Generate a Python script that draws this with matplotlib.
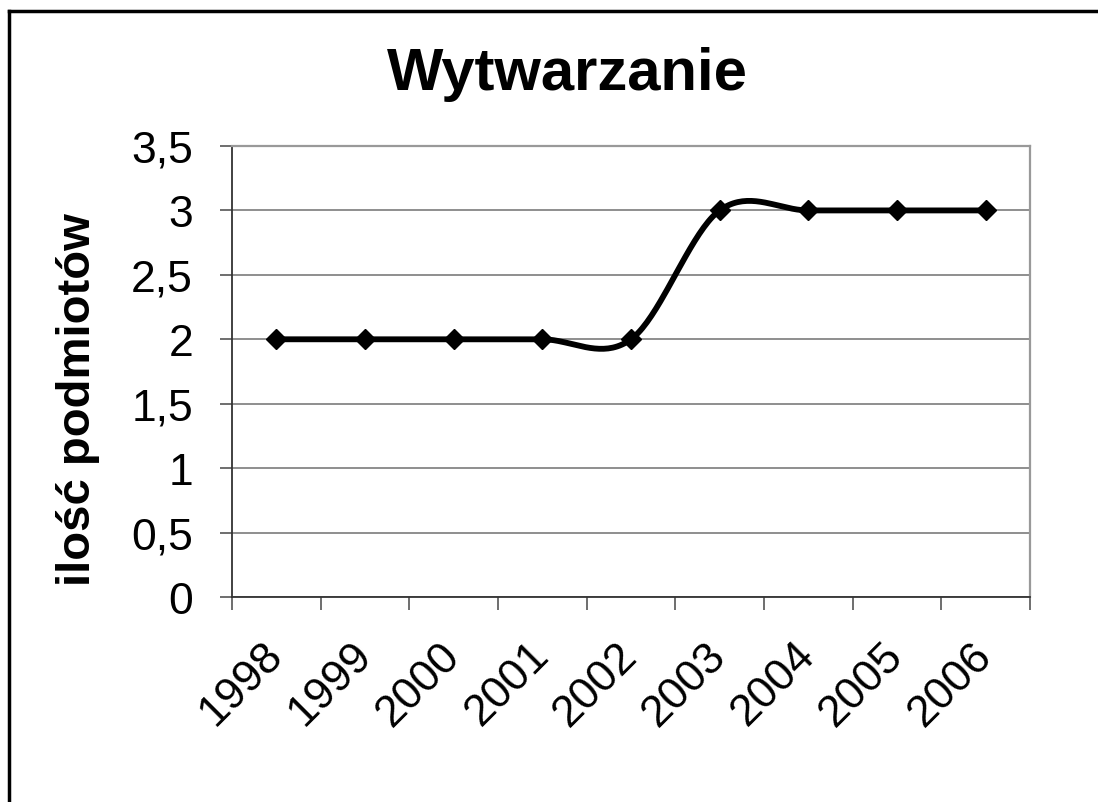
import matplotlib
matplotlib.use('Agg')
import matplotlib.pyplot as plt
import numpy as np
from matplotlib.lines import Line2D

plt.rcParams['font.family'] = ['Liberation Sans', 'DejaVu Sans']

years = ['1998', '1999', '2000', '2001', '2002', '2003', '2004', '2005', '2006']
values = [2, 2, 2, 2, 2, 3, 3, 3, 3]
yticks = [0, 0.5, 1, 1.5, 2, 2.5, 3, 3.5]
ytick_labels = ['0', '0,5', '1', '1,5', '2', '2,5', '3', '3,5']


def smooth(y, n=40):
    # catmull-rom like excel's smoothed line
    y = np.asarray(y, dtype=float)
    x = np.arange(len(y))
    m = np.zeros(len(y))
    m[1:-1] = (y[2:] - y[:-2]) / 2
    xs, ys = [], []
    for i in range(len(y) - 1):
        t = np.linspace(0, 1, n)
        h00 = 2*t**3 - 3*t**2 + 1
        h10 = t**3 - 2*t**2 + t
        h01 = -2*t**3 + 3*t**2
        h11 = t**3 - t**2
        xs.append(x[i] + t)
        ys.append(h00*y[i] + h10*m[i] + h01*y[i+1] + h11*m[i+1])
    return np.concatenate(xs), np.concatenate(ys)


fig = plt.figure(figsize=(10.98, 8.03), dpi=100)
ax = fig.add_axes([232/1098, 1-598/803, 798/1098, 451/803])

sx, sy = smooth(values)
ax.plot(sx, sy, color='black', lw=4.2, solid_capstyle='round', zorder=3)
ax.plot(range(len(values)), values, ls='none', marker='D', ms=10,
        color='black', zorder=4)

ax.set_xlim(-0.5, len(years) - 0.5)
ax.set_ylim(0, 3.5)
ax.set_yticks(yticks)
ax.set_yticklabels(ytick_labels, fontsize=32)
ax.yaxis.grid(True, color='#707070', lw=1.1)
ax.set_axisbelow(True)

ax.set_xticks(range(len(years)))
ax.set_xticklabels(years, fontsize=32, rotation=45, ha='right', va='center',
                   rotation_mode='anchor')
ax.set_xticks(np.arange(-0.5, len(years)), minor=True)
ax.tick_params(axis='x', which='major', length=0, pad=37)
ax.tick_params(axis='x', which='minor', length=9, width=1.2, color='#555555')
ax.tick_params(axis='y', length=9, width=1.2, color='#555555', pad=19)

for s in ['top', 'right']:
    ax.spines[s].set_color('#999999')
    ax.spines[s].set_linewidth(1.6)
for s in ['left', 'bottom']:
    ax.spines[s].set_color('#333333')
    ax.spines[s].set_linewidth(1.3)

ax.set_ylabel('ilość podmiotów', fontsize=34, fontweight='bold', va='center')
ax.yaxis.set_label_coords(-0.193, 0.441)

fig.text(567/1098, 1-75/803, 'Wytwarzanie', fontsize=43, fontweight='bold',
         ha='center', va='center')

# chart border (only top and left visible)
fig.add_artist(Line2D([9/1098, 9/1098], [0, 1-12/803], color='black', lw=2.5))
fig.add_artist(Line2D([9/1098, 1], [1-12/803, 1-12/803], color='black', lw=2.5))

fig.savefig('out.png', dpi=100)
